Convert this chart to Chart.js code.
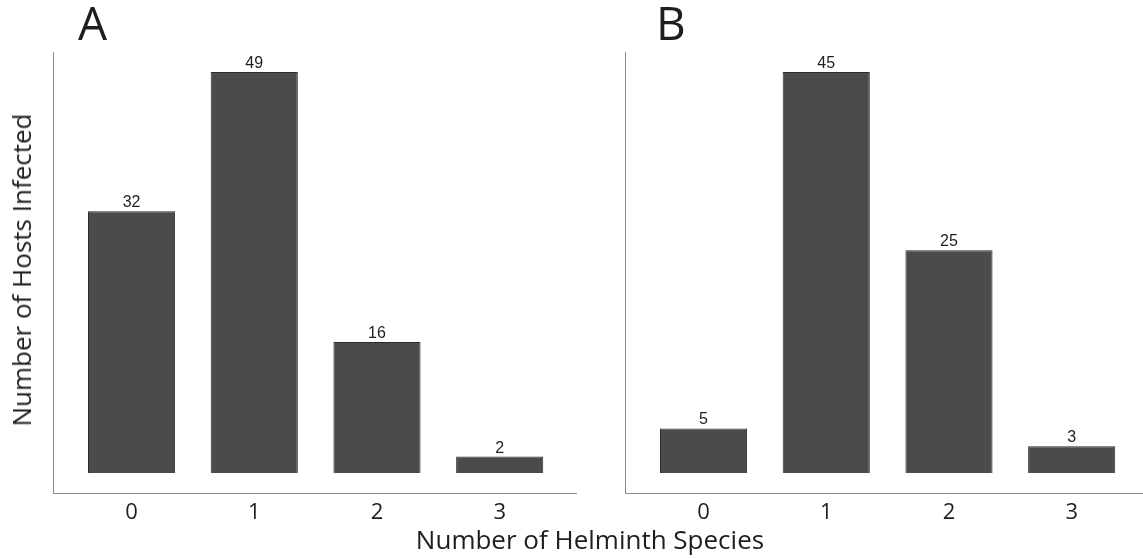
<!DOCTYPE html>
<html>
<head>
<meta charset="utf-8">
<script src="https://cdn.jsdelivr.net/npm/chart.js@4.4.0/dist/chart.umd.min.js"></script>
<style>
  html, body { margin: 0; padding: 0; width: 1143px; height: 558px; overflow: hidden; background: #ffffff; }
  .wrap { position: absolute; top: 0; width: 577px; height: 558px; }
  .txt { position: absolute; font-family: "Open Sans", sans-serif; color: #1e1e1e; white-space: nowrap; line-height: 1; }
</style>
</head>
<body>
<div class="wrap" style="left:0px"><canvas id="chartA" width="577" height="558"></canvas></div>
<div class="wrap" style="left:572px"><canvas id="chartB" width="577" height="558"></canvas></div>
<div class="txt" id="panelA" style="left:78px; top:-1px; font-size:46px;">A</div>
<div class="txt" id="panelB" style="left:656px; top:-1px; font-size:46px;">B</div>
<div class="txt" id="xTitle" style="left:590px; top:526px; font-size:26px; transform:translateX(-50%);">Number of Helminth Species</div>
<div class="txt" id="yTitle" style="left:21px; top:270px; font-size:26px; transform:translate(-50%,-50%) rotate(-90deg);">Number of Hosts Infected</div>
<script>
const categories = ['0', '1', '2', '3'];
const hostsA = [32, 49, 16, 2];
const hostsB = [5, 45, 25, 3];
const panelLabels = ['A', 'B'];
const xTitle = 'Number of Helminth Species';
const yTitle = 'Number of Hosts Infected';

document.getElementById('panelA').textContent = panelLabels[0];
document.getElementById('panelB').textContent = panelLabels[1];
document.getElementById('xTitle').textContent = xTitle;
document.getElementById('yTitle').textContent = yTitle;

const valueLabels = {
  id: 'valueLabels',
  afterDatasetsDraw(chart) {
    const ctx = chart.ctx;
    const meta = chart.getDatasetMeta(0);
    const data = chart.data.datasets[0].data;
    ctx.save();
    ctx.font = '16px "Liberation Sans", Arial, sans-serif';
    ctx.fillStyle = '#1e1e1e';
    ctx.textAlign = 'center';
    ctx.textBaseline = 'alphabetic';
    meta.data.forEach((bar, i) => {
      ctx.fillText(String(data[i].y), bar.x, bar.y - 4);
    });
    ctx.restore();
  }
};

function makeChart(id, values) {
  const maxV = Math.max(...values);
  return new Chart(document.getElementById(id), {
    type: 'bar',
    data: {
      datasets: [{
        data: values.map((v, i) => ({ x: i, y: v })),
        backgroundColor: '#4b4b4b',
        borderColor: '#2c2c2c',
        borderWidth: 1,
        barPercentage: 0.71,
        categoryPercentage: 1.0
      }]
    },
    options: {
      responsive: false,
      animation: false,
      events: [],
      layout: { padding: { top: 52, left: 53, right: 0, bottom: 0 } },
      plugins: { legend: { display: false }, tooltip: { enabled: false }, title: { display: false } },
      scales: {
        x: {
          type: 'linear',
          offset: false,
          min: -0.64,
          max: 3.63,
          grid: { display: false, drawTicks: false, offset: false },
          border: { display: true, color: '#8c8c8c', width: 1 },
          ticks: {
            stepSize: 1,
            includeBounds: false,
            padding: 7,
            color: '#1e1e1e',
            font: { family: '"Open Sans", sans-serif', size: 22 },
            callback: (v) => (Number.isInteger(v) && categories[v] !== undefined) ? categories[v] : ''
          },
          afterFit: (s) => { s.height = 65; }
        },
        y: {
          min: -0.05 * maxV,
          max: 1.05 * maxV,
          grid: { display: false, drawTicks: false },
          border: { display: true, color: '#8c8c8c', width: 1 },
          ticks: { display: false },
          afterFit: (s) => { s.width = 0; }
        }
      }
    },
    plugins: [valueLabels]
  });
}

makeChart('chartA', hostsA);
makeChart('chartB', hostsB);
</script>
</body>
</html>
